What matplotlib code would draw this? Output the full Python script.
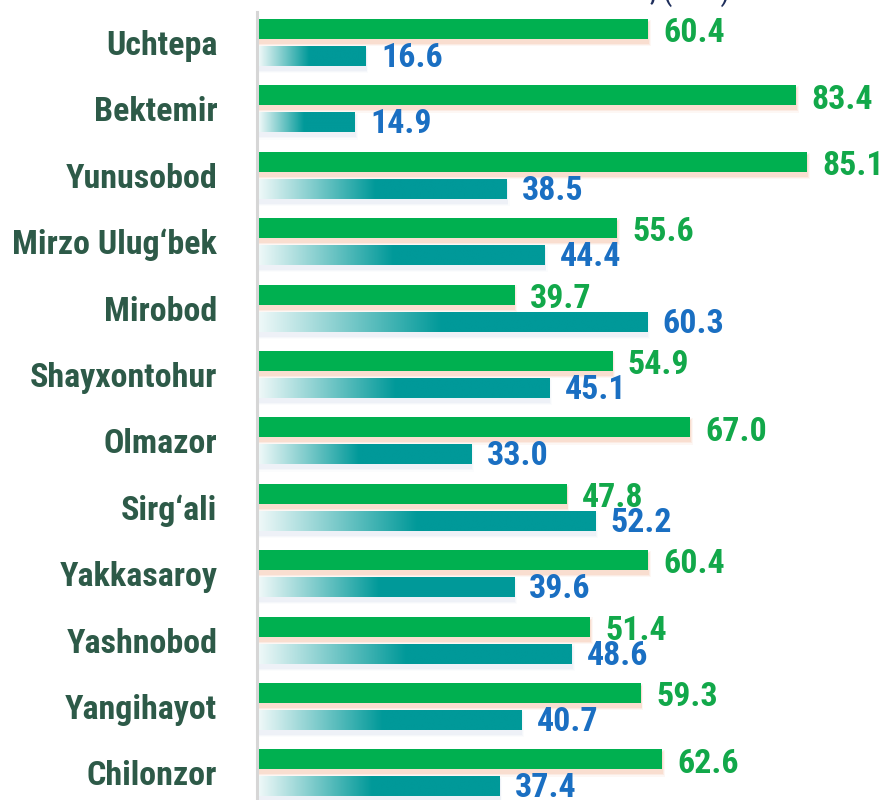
import numpy as np
import matplotlib.pyplot as plt
from matplotlib.colors import LinearSegmentedColormap

# districts top to bottom, values in %
districts = ['Uchtepa', 'Bektemir', 'Yunusobod', 'Mirzo Ulug\u2018bek', 'Mirobod',
             'Shayxontohur', 'Olmazor', 'Sirg\u2018ali', 'Yakkasaroy', 'Yashnobod',
             'Yangihayot', 'Chilonzor']
green_vals = [60.4, 83.4, 85.1, 55.6, 39.7, 54.9, 67.0, 47.8, 60.4, 51.4, 59.3, 62.6]
teal_vals = [16.6, 14.9, 38.5, 44.4, 60.3, 45.1, 33.0, 52.2, 39.6, 48.6, 40.7, 37.4]

FONT = ['Roboto Condensed', 'Liberation Sans Narrow', 'Roboto', 'DejaVu Sans']
GREEN = '#00b050'
TEAL = '#009999'
LBL_GREEN = '#12a84a'
LBL_BLUE = '#1a6fc2'
NAME_COL = '#2d5a48'

plt.rcParams['font.family'] = FONT

fig = plt.figure(figsize=(8.86, 8.0), dpi=100)
ax = fig.add_axes([259 / 886, 0, 1 - 259 / 886, 1])

y = np.arange(len(districts))
off = 0.203
h = 0.30

# soft shadows
for k, a in [(0.10, 0.10), (0.06, 0.18), (0.03, 0.25)]:
    ax.barh(y - off + 0.06, np.array(green_vals) + k * 4, height=h + k, color='#f4b89a',
            alpha=a, lw=0, zorder=1)
    ax.barh(y + off + 0.06, np.array(teal_vals) + k * 4, height=h + k, color='#c8d4e6',
            alpha=a * 0.6, lw=0, zorder=1)

ax.barh(y - off, green_vals, height=h, color=GREEN, lw=0, zorder=3)

cmap = LinearSegmentedColormap.from_list('tg', [(0, '#eef8f8'), (0.47, TEAL), (1, TEAL)])
grad = np.linspace(0, 1, 256).reshape(1, -1)
bars = ax.barh(y + off, teal_vals, height=h, color='none', lw=0, zorder=3)
for b, v in zip(bars, teal_vals):
    yy = b.get_y()
    im = ax.imshow(grad, cmap=cmap, aspect='auto', extent=(0, v, yy + h, yy),
                   zorder=3, interpolation='bicubic')
    im.set_clip_path(b)

for i in range(len(districts)):
    ax.annotate(f'{green_vals[i]:.1f}', (green_vals[i], i - off), xytext=(11, -3),
                textcoords='offset points', va='center', ha='left', fontsize=24.5,
                fontweight='bold', color=LBL_GREEN)
    ax.annotate(f'{teal_vals[i]:.1f}', (teal_vals[i], i + off), xytext=(11, -1.5),
                textcoords='offset points', va='center', ha='left', fontsize=24.5,
                fontweight='bold', color=LBL_BLUE)

ax.set_xlim(0, 627 / 6.44)
ax.set_ylim((800 - 42.5) / 66.4, -42.5 / 66.4)
ax.set_yticks(y, districts)
ax.tick_params(axis='y', length=0, pad=30, labelsize=24.5, labelcolor=NAME_COL)
for t in ax.get_yticklabels():
    t.set_fontweight('bold')
ax.set_xticks([])
for s in ax.spines.values():
    s.set_visible(False)
ax.axvline(-0.25, ymin=0, ymax=0.985, color='#d6d6d6', lw=2.2, clip_on=False, zorder=2)

# title above is cut off in the reference; only its lower edge shows
fig.text(730 / 886, 1.012, ', (in %)', ha='right', va='center', fontsize=22,
         color='#1f2f5c')

fig.savefig('out.png', dpi=100)
